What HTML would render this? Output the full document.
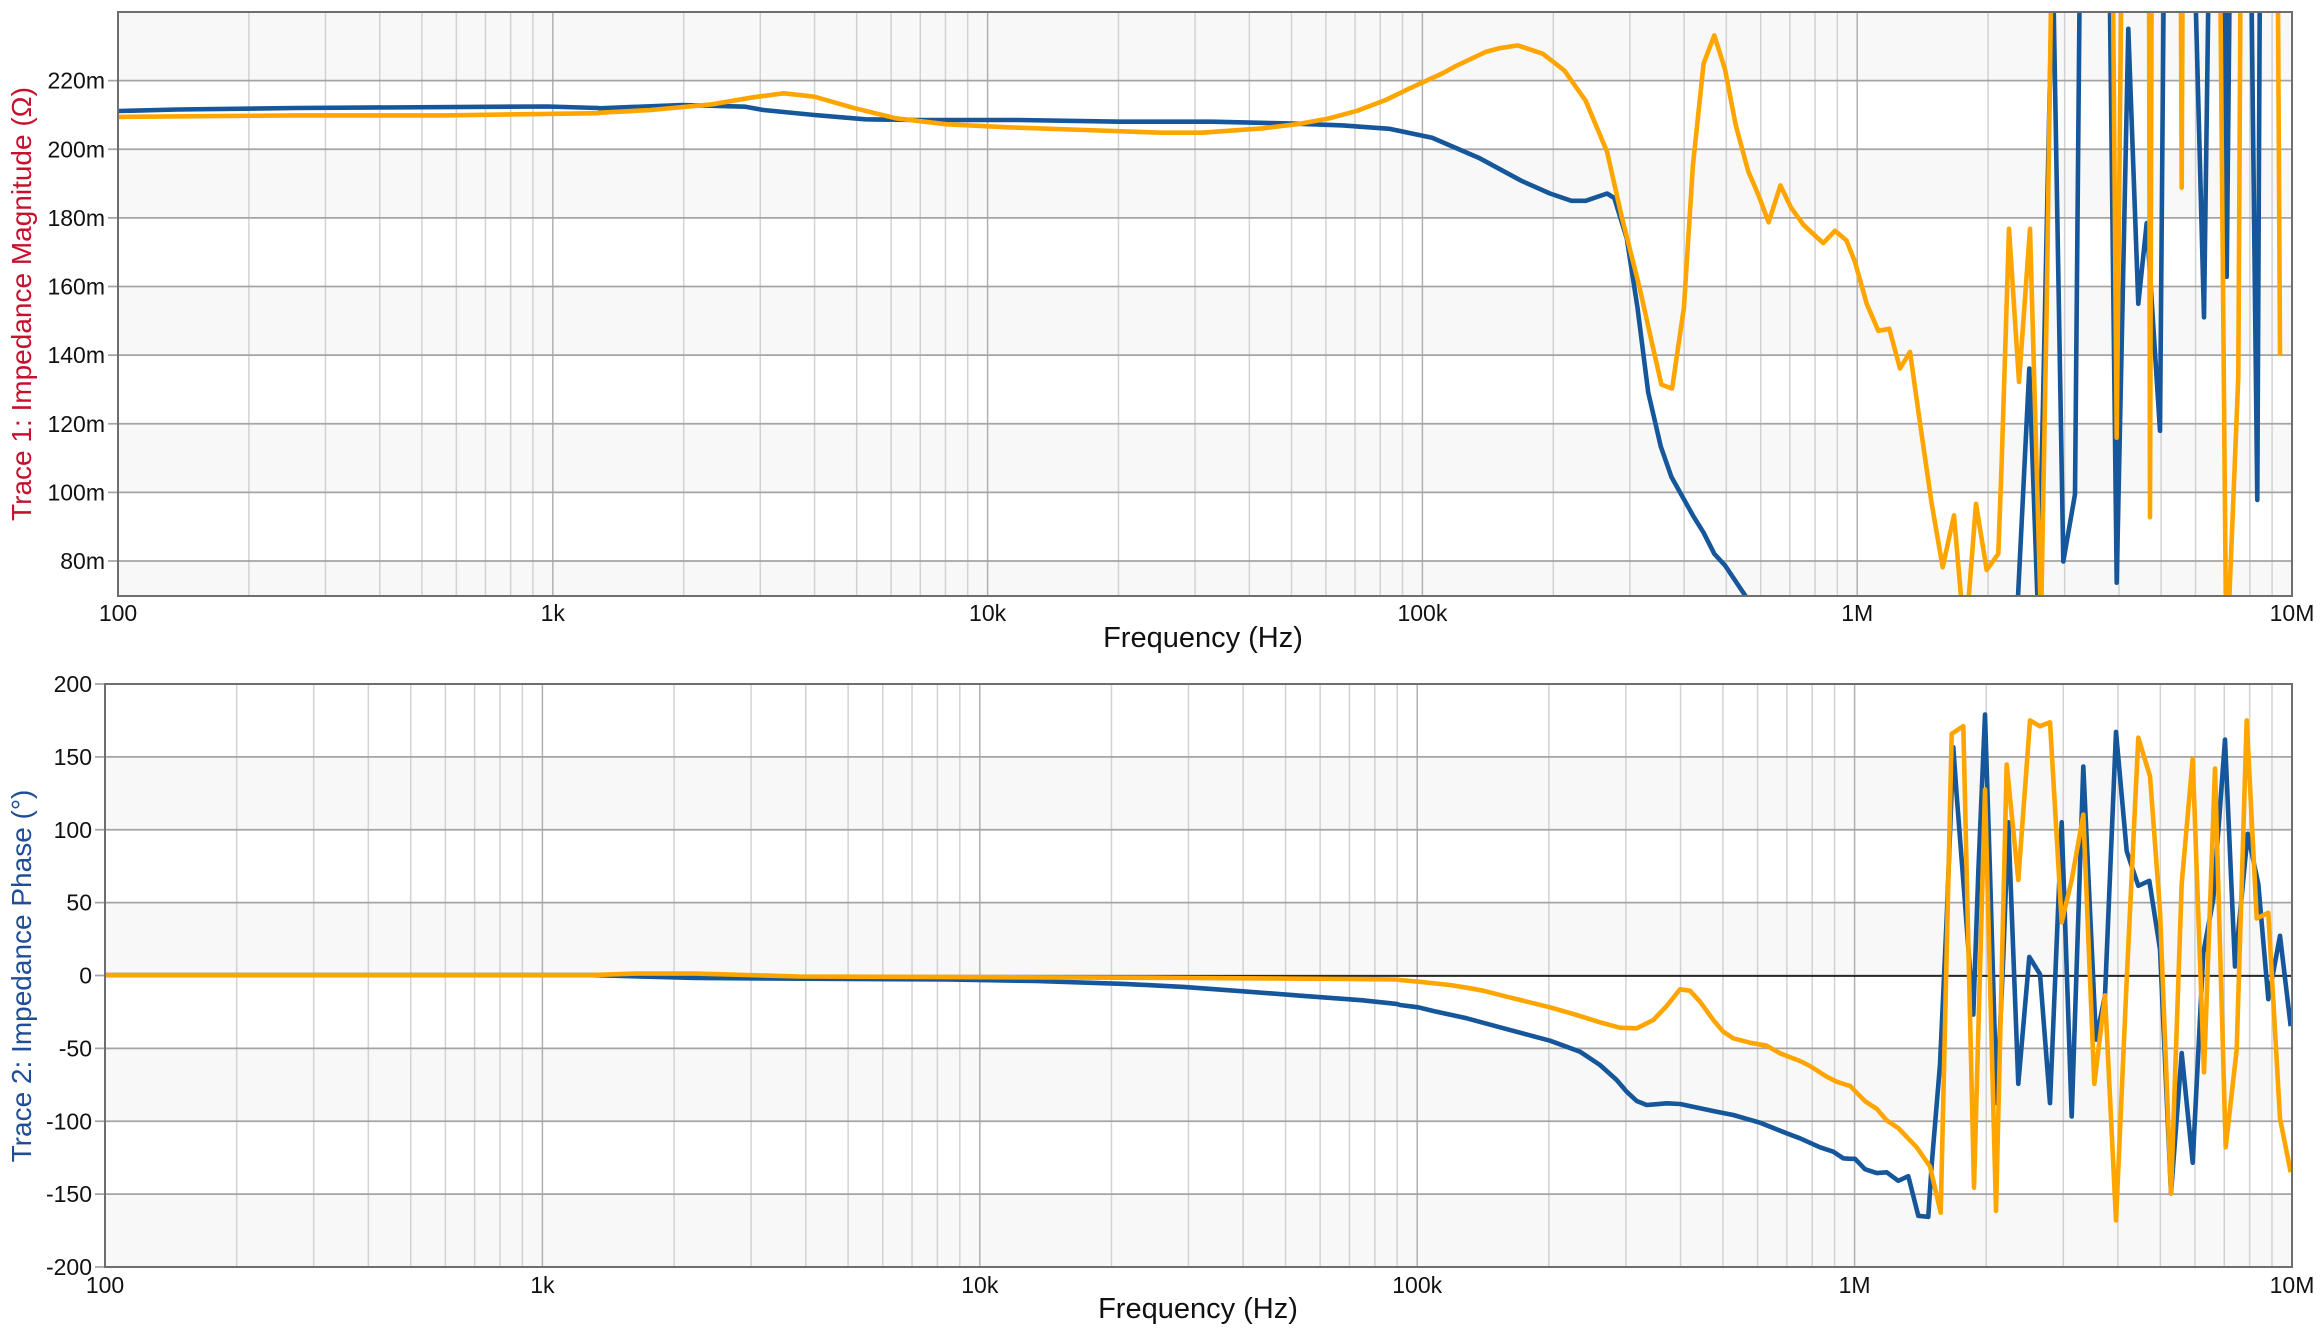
<!DOCTYPE html>
<html><head><meta charset="utf-8"><style>
html,body{margin:0;padding:0;background:#fff;}
svg{display:block;}
text{font-family:"Liberation Sans",sans-serif;}
</style></head><body>
<svg id="s" width="2320" height="1334" viewBox="0 0 2320 1334" xmlns="http://www.w3.org/2000/svg">
<defs>
<clipPath id="c1"><rect x="118" y="12" width="2174" height="584"/></clipPath>
<clipPath id="c2"><rect x="105" y="684" width="2187" height="583"/></clipPath>
</defs>
<g id="g"></g>
<text x="1203" y="647" font-size="29" text-anchor="middle" fill="#111">Frequency (Hz)</text>
<text x="1198" y="1318" font-size="29" text-anchor="middle" fill="#111">Frequency (Hz)</text>
<text transform="translate(31,304) rotate(-90)" font-size="28" text-anchor="middle" fill="#c8102e">Trace 1: Impedance Magnitude (Ω)</text>
<text transform="translate(31,976) rotate(-90)" font-size="28" text-anchor="middle" fill="#1f4e96">Trace 2: Impedance Phase (°)</text>
</svg>
<script>
var NS="http://www.w3.org/2000/svg",g=document.getElementById('g');
function el(t,a,p){var e=document.createElementNS(NS,t);for(var k in a)e.setAttribute(k,a[k]);(p||g).appendChild(e);return e;}
function txt(x,y,s,anchor,size){var e=el('text',{x:x,y:y,'font-size':size||23,'text-anchor':anchor,fill:'#111'});e.textContent=s;}
function plot(L,R,T,B,vmin,vmax,step,greyFn,labels,labFmt,lx,xly){
  el('rect',{x:L,y:T,width:R-L,height:B-T,fill:'#fff'});
  var py=function(v){return B-(v-vmin)/(vmax-vmin)*(B-T);};
  var dec=(R-L)/5;
  for(var v=Math.floor(vmin/step)*step;v<vmax;v+=step){
    if(greyFn(v)){var y1=py(Math.min(v+step,vmax)),y2=py(Math.max(v,vmin));el('rect',{x:L,y:y1,width:R-L,height:y2-y1,fill:'#f8f8f8'});}
  }
  for(var d=0;d<5;d++)for(var m=2;m<=9;m++){var x=L+(d+Math.log10(m))*dec;el('line',{x1:x,y1:T,x2:x,y2:B,stroke:'#d2d2d2','stroke-width':1.5});}
  for(var d=1;d<5;d++){var x=L+d*dec;el('line',{x1:x,y1:T,x2:x,y2:B,stroke:'#b0b0b0','stroke-width':1.5});}
  labels.forEach(function(v){var y=py(v);el('line',{x1:L-10,y1:y,x2:R,y2:y,stroke:'#a4a4a4','stroke-width':1.8});txt(lx,y+8,labFmt(v),'end');});
  var xl=['100','1k','10k','100k','1M','10M'];
  for(var d=0;d<=5;d++)txt(L+d*dec,xly,xl[d],'middle');
  return py;
}
var py1=plot(118,2292,12,596,69.8,240,20,function(v){var i=Math.round((v-60)/20);return i%2==0;},[80,100,120,140,160,180,200,220],function(v){return v+'m';},105,621);
var py2=plot(105,2292,684,1267,-200,200,50,function(v){return [100,0,-100,-200].indexOf(v)>=0;},[-200,-150,-100,-50,0,50,100,150,200],function(v){return ''+v;},92,1293);
el('line',{x1:105,y1:976,x2:2292,y2:976,stroke:'#000','stroke-width':1.5});

var S=2320/1568;
function D(a){return a.map(function(p){return [p[0]*S,p[1]*S];});}
function Z(a,x0,y0,sx,sy,cond){var r=[];a.forEach(function(p){if(!cond||cond(p[0]))r.push([x0+p[0]/sx,y0+p[1]/sy]);});return r;}
function line(pts,col,clip){el('polyline',{points:pts.map(function(p){return p[0].toFixed(1)+','+p[1].toFixed(1);}).join(' '),fill:'none',stroke:col,'stroke-width':4.6,'stroke-linejoin':'round','clip-path':'url(#'+clip+')'});}
var BL='#15579a',OR='#ffa500';
var tb=[].concat(
 D([[80,75],[120,74],[200,73],[370,72],[404,73]]),
 Z([[0,205],[160,195],[285,200],[320,210],[420,225],[520,238],[620,240],[820,240],[1020,245],[1200,245],[1340,250]],600,40,1.96,3),
 Z([[0,322],[120,326],[250,335],[370,358],[500,410],[620,470],[700,503],[760,522],[800,522],[860,503],[880,515],[915,620],[945,800],[975,1020],[1010,1160],[1040,1240],[1100,1340],[1130,1385],[1160,1440],[1190,1470],[1255,1560],[1290,1620]],1300,0,2.8,2.6),
 Z([[500,1620],[538,958],[565,1620],[608,-130],[640,1460],[675,1285],[690,-130],[778,-130],[800,1515],[835,75],[865,790],[890,580],[930,1120],[942,-130],[1033,-130],[1062,825],[1077,-130],[1123,-130],[1130,720],[1140,-130],[1203,-130],[1222,1300],[1230,-130],[1320,-130]],1850,0,3,2.6)
);
var to=[].concat(
 D([[80,79],[200,78],[300,78],[370,77],[404,76.5]]),
 Z([[0,218],[100,210],[220,193],[300,172],[360,160],[420,170],[500,205],[580,235],[680,253],[800,262],[950,270],[1100,278],[1180,278],[1300,265]],600,40,1.96,3),
 Z([[0,322],[80,308],[160,288],[240,260],[300,233],[400,190],[440,170],[520,135],[560,125],[610,118],[680,140],[740,183],[800,262],[860,395],[900,560],[950,745],[985,890],[1012,1000],[1042,1010],[1075,800],[1100,430],[1130,165],[1160,92],[1190,180],[1220,325],[1255,445],[1285,510],[1312,578],[1345,482],[1375,540],[1410,585],[1465,632],[1498,600],[1530,625]],1300,0,2.8,2.6),
 Z([[15,262*2.6],[50,790],[85,860],[118,855],[150,958],[180,915],[210,1100],[245,1310],[278,1475],[312,1340],[340,1620],[350,1620],[378,1310],[410,1482],[445,1440],[455,1200],[477,595],[507,993],[540,595],[573,1620],[590,800],[605,-130],[788,-130],[800,1138],[815,-130],[897,-130],[900,1345],[905,-130],[992,-130],[995,488],[998,-130],[1110,-130],[1128,1620],[1135,1620],[1165,980],[1172,-130],[1283,-130],[1290,925]],1850,0,3,2.6)
);
line(tb,BL,'c1');line(to,OR,'c1');
var bb=[].concat(
 D([[71,659],[400,659],[470,661],[640,662],[700,663],[760,665],[800,667],[840,670],[880,673],[920,676],[944,678.5]]),
 Z([[0,315],[55,322],[100,333],[200,355],[300,382],[450,422],[540,455],[600,495],[650,540],[680,575],[710,603],[740,615],[800,610],[840,612],[950,635],[1000,645],[1080,668],[1160,700],[1200,715],[1260,742],[1300,755],[1330,775]],1400,900,3,3),
 Z([[0,1245],[15,1245],[45,1272],[80,1282],[110,1280],[145,1302],[175,1290],[205,1393],[235,1396],[245,1260],[270,1000],[290,620],[310,175],[320,300],[345,580],[370,870],[385,500],[405,90],[420,500],[440,1100],[460,720],[475,370],[505,1050],[538,720],[570,765],[600,1100],[635,370],[665,1135],[700,225],[738,935],[765,820],[798,135],[830,445],[865,535],[898,522],[930,700],[963,1335],[995,970],[1028,1255],[1060,710],[1090,570],[1125,155],[1155,745],[1193,400],[1225,530],[1255,830],[1290,665],[1322,900]],1850,680,3,2.6)
);
var bo=[].concat(
 D([[71,659],[400,659],[430,658],[470,658],[540,660],[800,661],[900,661.5],[944,662]]),
 Z([[0,240],[55,245],[150,255],[200,263],[250,272],[320,290],[450,322],[530,345],[600,367],[660,383],[710,385],[760,360],[800,318],[840,268],[870,272],[900,305],[940,360],[970,395],[1000,415],[1050,428],[1100,437],[1140,460],[1200,483],[1230,498],[1280,530],[1310,545],[1340,555]],1400,900,3,3),
 Z([[0,1055],[45,1095],[80,1115],[110,1145],[145,1165],[200,1215],[240,1265],[272,1385],[305,140],[340,120],[372,1320],[405,285],[438,1380],[470,220],[505,520],[540,105],[570,120],[600,110],[635,630],[665,520],[700,350],[733,1050],[765,820],[798,1405],[830,780],[865,150],[900,250],[930,600],[963,1335],[995,530],[1028,205],[1062,1020],[1095,230],[1127,1215],[1160,960],[1190,105],[1220,620],[1255,605],[1290,1140],[1322,1280]],1850,680,3,2.6)
);
line(bb,BL,'c2');line(bo,OR,'c2');
el('rect',{x:118,y:12,width:2174,height:584,fill:'none',stroke:'#6e6e6e','stroke-width':2});
el('rect',{x:105,y:684,width:2187,height:583,fill:'none',stroke:'#6e6e6e','stroke-width':2});
</script>
</body></html>
